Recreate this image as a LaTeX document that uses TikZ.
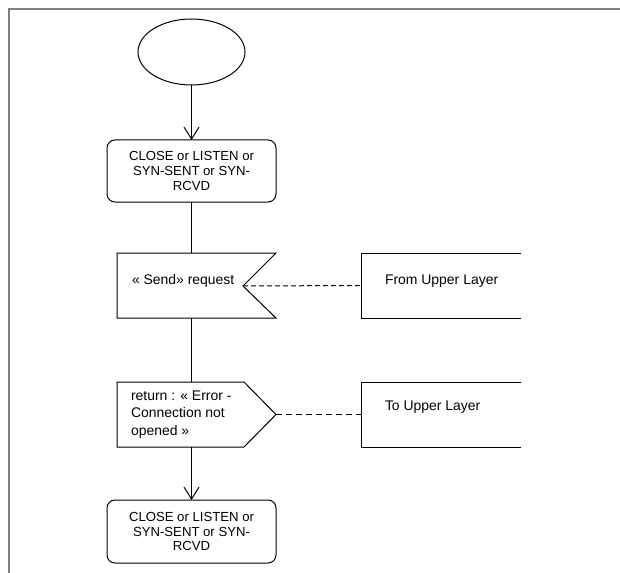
\documentclass[tikz,border=0pt]{standalone}
\usepackage{fontspec}
\setmainfont{Liberation Sans}
\usetikzlibrary{arrows.meta,shapes.geometric,calc}
\definecolor{framegray}{HTML}{808080}
\begin{document}
\begin{tikzpicture}[x=1bp,y=-1bp,
  every node/.style={inner sep=0pt, outer sep=0pt},
  txt/.style={font=\fontsize{14}{17.5}\selectfont, align=left},
  statebox/.style={draw=black, line width=1bp, rounded corners=8bp, minimum width=169bp,
     font=\fontsize{13.2}{15}\selectfont, align=center},
  startell/.style={draw=black, line width=1bp, ellipse, minimum width=107bp, minimum height=66bp},
  ghost/.style={minimum width=159bp, minimum height=65bp},
  ghostwide/.style={minimum width=160bp, minimum height=65bp},
  shapeline/.style={draw=black, line width=1bp},
  flow/.style={draw=black, line width=1bp},
  flowarrow/.style={draw=black, line width=1bp, -{Straight Barb[length=12bp,width=15bp,line width=1bp]}},
  thindash/.style={draw=black, line width=1bp, dash pattern=on 5bp off 3bp},
  thickdash/.style={draw=black, line width=1.6bp, dash pattern=on 6bp off 4bp},
  framestyle/.style={draw=framegray, line width=2bp}
]
\useasboundingbox (0,0) rectangle (620,573);
% frame
\draw[framestyle] (9,573) -- (9,9) -- (620,9);

% nodes
\node[startell] (start) at (191.5,52) {};
\node[statebox, minimum height=62bp] (state1) at (191.5,171) {CLOSE or LISTEN or\\SYN-SENT or SYN-\\RCVD};

\node[ghost] (sendbox) at (196.5,285.5) {};
\coordinate (sendnotch) at (243,286);
\draw[shapeline] (sendbox.north west) -- (sendbox.north east) -- (sendnotch) -- (sendbox.south east) -- (sendbox.south west) -- cycle;
\node[txt, anchor=west] (sendtxt) at (132,281) {« Send» request};

\node[ghostwide] (fromul) at (441,285.5) {};
\draw[shapeline] (fromul.north east) -- (fromul.north west) -- (fromul.south west) -- (fromul.south east);
\node[txt, anchor=west] (fromtxt) at (385,281) {From Upper Layer};

\node[ghost] (outbox) at (196.5,414.5) {};
\coordinate (outtip) at (276,414.5);
\draw[shapeline] (outbox.north west) -- ($(outbox.north east)+(-32,0)$) -- (outtip) -- ($(outbox.south east)+(-32,0)$) -- (outbox.south west) -- cycle;
\node[txt, anchor=west] (outtxt) at (131,414.5) {return : « Error -\\Connection not\\opened »};

\node[ghostwide] (toul) at (441,414.5) {};
\draw[shapeline] (toul.north east) -- (toul.north west) -- (toul.south west) -- (toul.south east);
\node[txt, anchor=west] (totxt) at (385,407) {To Upper Layer};

\node[statebox, minimum height=63bp] (state3) at (191.5,531.5) {CLOSE or LISTEN or\\SYN-SENT or SYN-\\RCVD};

% connectors
\draw[flowarrow] (start.south) -- (state1.north);
\draw[flow] (state1.south) -- (sendbox.north -| state1.south);
\draw[flow] (sendbox.south -| state1.south) -- (outbox.north -| state1.south);
\draw[flowarrow] (outbox.south -| state3.north) -- (state3.north);
\draw[thindash] (sendnotch) -- (fromul.west);
\draw[thickdash] (outtip) -- (toul.west);
\end{tikzpicture}
\end{document}
